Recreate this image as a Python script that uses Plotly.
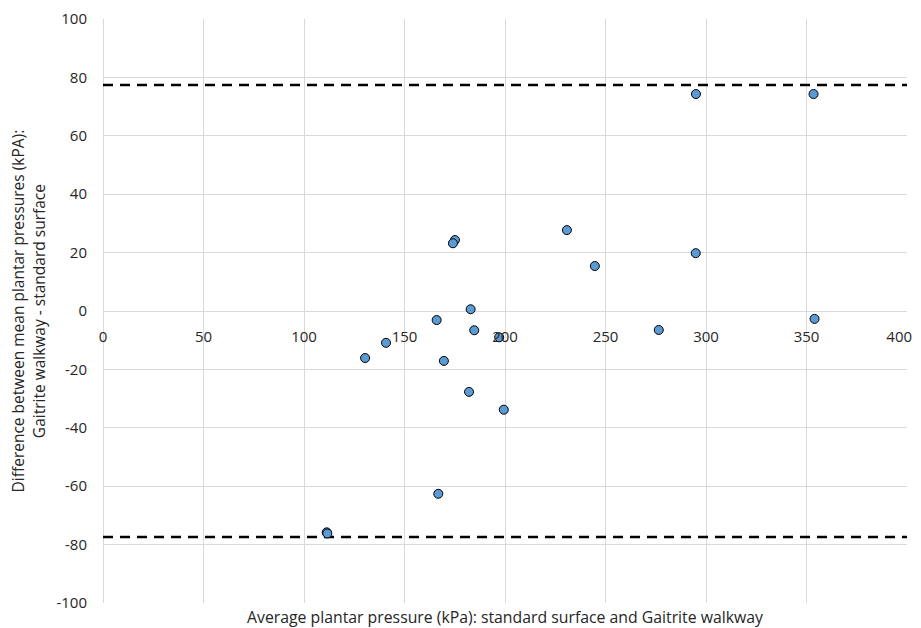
import plotly.graph_objects as go

avg_pressure = [295.0, 353.5, 294.9, 354.0, 230.8, 244.7, 276.5, 175.1, 174.1, 182.9,
                166.0, 184.7, 197.1, 140.8, 130.4, 169.6, 182.1, 199.4, 166.8, 111.3, 111.6]
diff_pressure = [74.3, 74.3, 19.8, -2.7, 27.7, 15.4, -6.5, 24.3, 23.2, 0.6,
                 -3.1, -6.6, -9.0, -10.9, -16.1, -17.1, -27.7, -33.8, -62.6, -75.8, -76.2]
upper_loa = 77.4
lower_loa = -77.4
x_ticks = [0, 50, 100, 150, 200, 250, 300, 350, 400]
x_tick_labels = ["0", "50", "100", "150", "200", "250", "300", "350", "400"]
y_ticks = [-100, -80, -60, -40, -20, 0, 20, 40, 60, 80, 100]
y_tick_labels = ["-100", "-80", "-60", "-40", "-20", "0", "20", "40", "60", "80", "100"]

FONT = "Open Sans"
GRID = "#D9D9D9"
TXT = "#262626"

# pad the last x label so it stays inside the visible page edge
x_text = x_tick_labels[:-1] + [x_tick_labels[-1] + "\u00a0" * 4]

fig = go.Figure()
for yv in (upper_loa, lower_loa):
    fig.add_trace(go.Scatter(x=[0, 400], y=[yv, yv], mode="lines",
                             line=dict(color="black", width=2.5, dash="10px,7px"),
                             hoverinfo="skip", showlegend=False, cliponaxis=False))
fig.add_trace(go.Scatter(x=avg_pressure, y=diff_pressure, mode="markers",
                         marker=dict(size=9, color="#5B9BD5",
                                     line=dict(color="black", width=1)),
                         showlegend=False))

# page body has an 8px default margin; figure offset compensated in margins
fig.update_layout(
    width=921, height=620,
    margin=dict(l=94.7, r=21.5, t=10.5, b=24.5, autoexpand=False),
    plot_bgcolor="white", paper_bgcolor="white",
    font=dict(family=FONT, size=15, color=TXT),
    xaxis=dict(range=[0, 400], tickvals=x_ticks, ticktext=x_text,
               showgrid=True, gridcolor=GRID, ticklabeloverflow="allow",
               gridwidth=1, zeroline=True, zerolinecolor=GRID, zerolinewidth=1,
               showline=False, anchor="free", position=0.5, automargin=False,
               ticks="outside", ticklen=12, tickcolor="rgba(0,0,0,0)",
               tickfont=dict(family=FONT, size=15, color=TXT)),
    yaxis=dict(range=[-100, 100], tickvals=y_ticks, ticktext=y_tick_labels,
               showgrid=True, gridcolor=GRID, automargin=False,
               gridwidth=1, zeroline=True, zerolinecolor=GRID, zerolinewidth=1,
               showline=False, ticks="outside", ticklen=12,
               tickcolor="rgba(0,0,0,0)",
               tickfont=dict(family=FONT, size=15, color=TXT)),
    annotations=[
        dict(text="Average plantar pressure (kPa): standard surface and Gaitrite walkway",
             xref="paper", yref="paper", x=0.5, y=-0.0248, xanchor="center",
             yanchor="middle", showarrow=False,
             font=dict(family=FONT, size=15.8, color=TXT)),
        dict(text="Difference between mean plantar pressures (kPA):<br>Gaitrite walkway - standard surface",
             xref="paper", yref="paper", x=-0.0928, y=0.5, xanchor="center",
             yanchor="middle", textangle=-90, showarrow=False,
             font=dict(family=FONT, size=15.5, color=TXT)),
    ],
)

fig.write_html("out.html")
